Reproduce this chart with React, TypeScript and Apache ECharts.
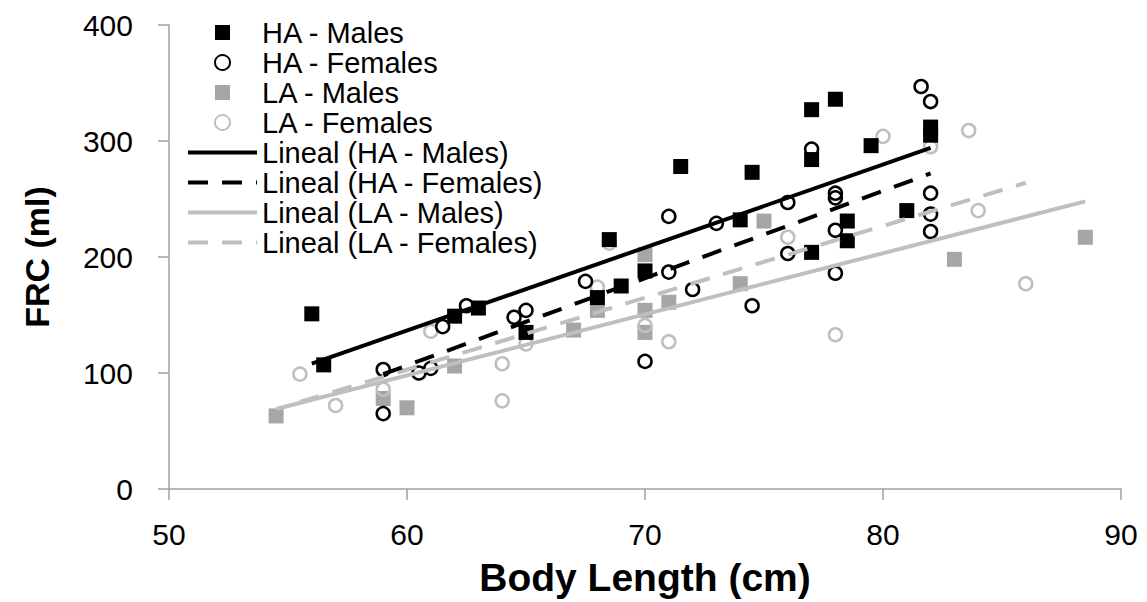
import React, { useEffect, useRef } from "react";
import * as echarts from "echarts";

const haMales: number[][] = [
  [56, 151], [56.5, 107], [62, 149], [63, 156], [65, 135], [68, 165], [68.5, 215],
  [69, 175], [70, 188], [71.5, 278], [74, 232], [74.5, 273], [77, 327], [77, 284],
  [77, 204], [78, 336], [78.5, 231], [78.5, 214], [79.5, 296], [81, 240], [82, 312], [82, 305],
];
const haFemales: number[][] = [
  [59, 103], [59, 65], [60.5, 100], [61, 104], [61.5, 140], [62.5, 158], [64.5, 148],
  [65, 154], [67.5, 179], [70, 110], [71, 235], [71, 187], [72, 172], [73, 229],
  [74.5, 158], [76, 247], [76, 203], [77, 293], [78, 255], [78, 251], [78, 223],
  [78, 186], [81.6, 347], [82, 334], [82, 255], [82, 237], [82, 222],
];
const laMales: number[][] = [
  [54.5, 63], [59, 78], [60, 70], [62, 106], [67, 137], [68, 154], [70, 202], [70, 154],
  [70, 135], [71, 161], [74, 177], [75, 231], [83, 198], [88.5, 217],
];
const laFemales: number[][] = [
  [55.5, 99], [57, 72], [59, 86], [61, 136], [64, 108], [64, 76], [65, 125], [68, 174],
  [68.5, 212], [70, 141], [71, 127], [76, 217], [78, 133], [80, 304], [82, 295],
  [83.6, 309], [84, 240], [86, 177],
];
const trendHAM: number[][] = [[56, 108], [82, 294]];
const trendHAF: number[][] = [[59, 99], [82, 272]];
const trendLAM: number[][] = [[54.5, 69], [88.5, 248]];
const trendLAF: number[][] = [[55.5, 75], [86, 264]];

const seriesNames = [
  "HA - Males", "HA - Females", "LA - Males", "LA - Females",
  "Lineal (HA - Males)", "Lineal (HA - Females)", "Lineal (LA - Males)", "Lineal (LA - Females)",
];

const xTicks = { min: 50, max: 90, interval: 10 };
const yTicks = { min: 0, max: 400, interval: 100 };

const FONT = "'Liberation Sans', Arial, sans-serif";
const GRAY_M = "#a6a6a6";
const GRAY_L = "#bfbfbf";
// square centred in a 69x15 icon box (degenerate end points keep the box from being stretched)
const SQUARE_ICON = "path://M0,7.5L0,7.5M27,0L42,0L42,15L27,15ZM69,7.5L69,7.5";

export default function App() {
  const ref = useRef<HTMLDivElement>(null);
  useEffect(() => {
    if (!ref.current) return;
    const chart = echarts.init(ref.current, undefined, { renderer: "svg" });
    const axisCommon = {
      axisLine: { show: true, lineStyle: { color: "#a0a0a0", width: 1.5 } },
      axisTick: { show: true, inside: false, length: 11, lineStyle: { color: "#a0a0a0", width: 1.5 } },
      splitLine: { show: false },
      nameLocation: "middle" as const,
    };
    chart.setOption({
      animation: false,
      backgroundColor: "#fff",
      grid: { left: 169, right: 26, top: 25, bottom: 108 },
      xAxis: {
        type: "value",
        ...xTicks,
        ...axisCommon,
        name: "Body Length (cm)",
        nameGap: 69,
        nameTextStyle: { fontFamily: FONT, fontSize: 39, fontWeight: "bold", color: "#000" },
        axisLabel: { fontFamily: FONT, fontSize: 30, color: "#000", margin: 30 },
      },
      yAxis: {
        type: "value",
        ...yTicks,
        ...axisCommon,
        name: "FRC (ml)",
        nameGap: 115,
        nameTextStyle: { fontFamily: FONT, fontSize: 34, fontWeight: "bold", color: "#000" },
        axisLabel: { fontFamily: FONT, fontSize: 30, color: "#000", margin: 36 },
      },
      legend: {
        orient: "vertical",
        left: 181,
        top: 13,
        itemWidth: 69,
        itemHeight: 15,
        itemGap: 1,
        lineStyle: { width: 4 },
        textStyle: { fontFamily: FONT, fontSize: 29, color: "#000" },
        data: seriesNames.map((n) =>
          n === "HA - Males" || n === "LA - Males" ? { name: n, icon: SQUARE_ICON } : { name: n }
        ),
      },
      series: [
        {
          name: seriesNames[0], type: "scatter", data: haMales, symbol: "rect", symbolSize: 15,
          itemStyle: { color: "#000", opacity: 1 }, z: 3,
        },
        {
          name: seriesNames[1], type: "scatter", data: haFemales, symbol: "circle", symbolSize: 13,
          itemStyle: { color: "rgba(255,255,255,0)", borderColor: "#000", borderWidth: 2.5, opacity: 1 }, z: 3,
        },
        {
          name: seriesNames[2], type: "scatter", data: laMales, symbol: "rect", symbolSize: 15,
          itemStyle: { color: GRAY_M, opacity: 1 }, z: 2,
        },
        {
          name: seriesNames[3], type: "scatter", data: laFemales, symbol: "circle", symbolSize: 13,
          itemStyle: { color: "rgba(255,255,255,0)", borderColor: GRAY_L, borderWidth: 2.5, opacity: 1 }, z: 2,
        },
        {
          name: seriesNames[4], type: "line", data: trendHAM, symbol: "none",
          lineStyle: { color: "#000", width: 4 }, itemStyle: { color: "#000", opacity: 0 }, z: 5,
        },
        {
          name: seriesNames[5], type: "line", data: trendHAF, symbol: "none",
          lineStyle: { color: "#000", width: 4, type: [20, 14] }, itemStyle: { color: "#000", opacity: 0 }, z: 5,
        },
        {
          name: seriesNames[6], type: "line", data: trendLAM, symbol: "none",
          lineStyle: { color: GRAY_L, width: 4 }, itemStyle: { color: GRAY_L, opacity: 0 }, z: 4,
        },
        {
          name: seriesNames[7], type: "line", data: trendLAF, symbol: "none",
          lineStyle: { color: GRAY_L, width: 4, type: [20, 14] }, itemStyle: { color: GRAY_L, opacity: 0 }, z: 4,
        },
      ],
    });
    return () => chart.dispose();
  }, []);
  return (
    <div
      ref={ref}
      style={{ position: "fixed", left: 0, top: 0, width: 1147, height: 602 }}
    />
  );
}
